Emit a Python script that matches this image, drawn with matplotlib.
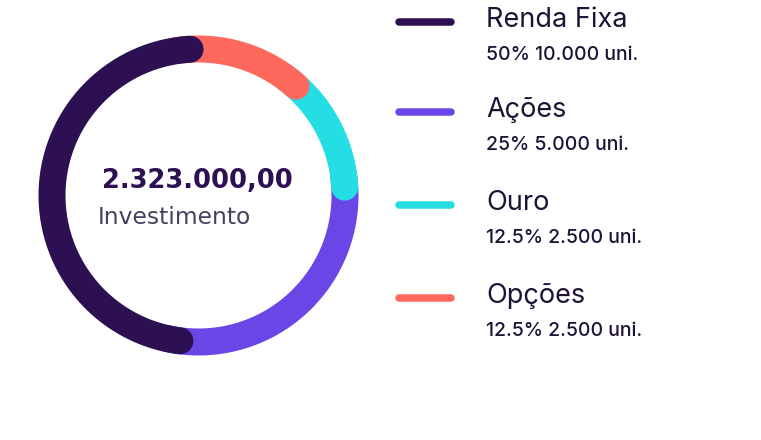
import numpy as np
import matplotlib
matplotlib.use("Agg")
import matplotlib.pyplot as plt

# ---- data ----
labels = ["Renda Fixa", "Ações", "Ouro", "Opções"]
percents = [50, 25, 12.5, 12.5]
units = ["10.000", "5.000", "2.500", "2.500"]
colors = ["#2C1052", "#6A46E6", "#24DEE3", "#FF685C"]
total_text = "2.323.000,00"
center_label = "Investimento"

W, H, DPI = 761, 440, 100
fig = plt.figure(figsize=(W / DPI, H / DPI), dpi=DPI)
ax = fig.add_axes([0, 0, 1, 1])
ax.set_xlim(0, W)
ax.set_ylim(H, 0)
ax.axis("off")

PX = 72.0 / DPI  # points per pixel

# ---- ring ----
cx, cy = 198.5, 195.5
r = 146.5
ring_w = 27
off = 2.0
cap = np.degrees((ring_w / 2) / r)

frac = np.array(percents) / np.sum(percents)
cum = np.concatenate([[0], np.cumsum(frac) * 360])
n = len(labels)
z = {0: n}
for i in range(1, n):
    z[i] = i

for i in sorted(range(n), key=lambda k: z[k]):
    hi = off - cum[i]
    lo = off - cum[i + 1]
    nb_lo = (i + 1) % n
    nb_hi = (i - 1) % n
    a0 = lo + cap if z[i] > z[nb_lo] else lo - 2 * cap
    a1 = hi - cap if z[i] > z[nb_hi] else hi + 2 * cap
    th = np.radians(np.linspace(a0, a1, 200))
    ax.plot(cx + r * np.sin(th), cy - r * np.cos(th), color=colors[i],
            lw=ring_w * PX, solid_capstyle="round", solid_joinstyle="round",
            zorder=z[i])

ax.text(197, 181.5, total_text, ha="center", va="center", fontsize=18.5,
        fontweight="bold", color="#2C1052", family="DejaVu Sans")
ax.text(98, 218, center_label, ha="left", va="center", fontsize=16.8,
        color="#44425F", family="DejaVu Sans")

# ---- legend ----
title_y = [20, 110, 203, 296]
for i in range(n):
    ly = title_y[i] + 2.5
    ax.plot([399, 451], [ly, ly], color=colors[i], lw=7.5 * PX,
            solid_capstyle="round")
    ax.text(486, title_y[i], labels[i], ha="left", va="center", fontsize=19.5,
            color="#1E1236", family="Inter")
    ax.text(486, title_y[i] + 35, f"{percents[i]:g}% {units[i]} uni.", ha="left",
            va="center", fontsize=14, fontweight="medium", color="#1E1236",
            family="Inter")

fig.savefig("out.png", dpi=DPI)
